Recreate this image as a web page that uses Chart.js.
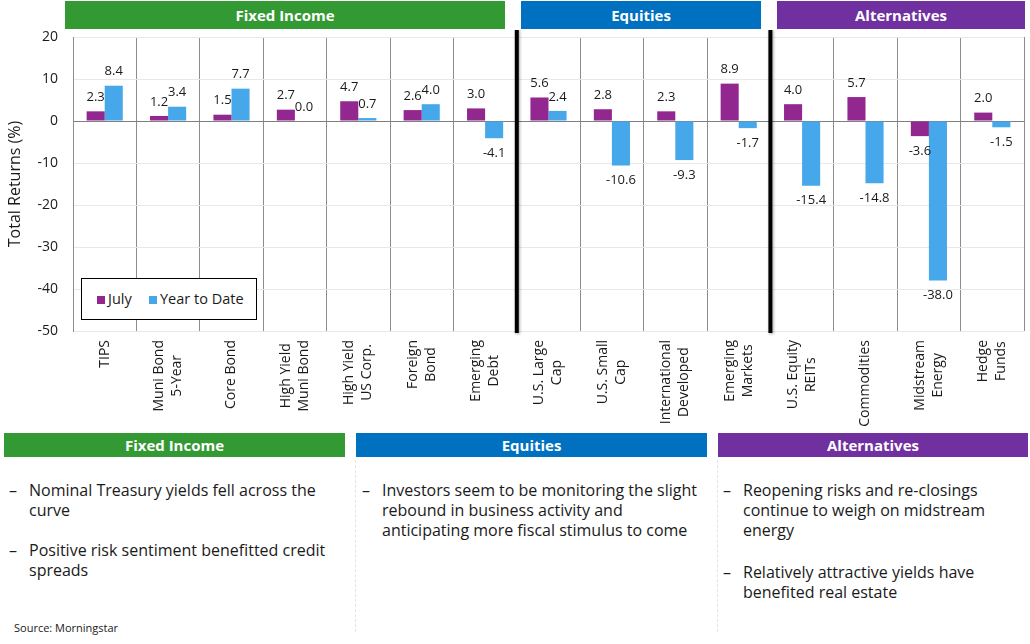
<!DOCTYPE html>
<html>
<head>
<meta charset="utf-8">
<script src="https://cdn.jsdelivr.net/npm/chart.js@4.4.0/dist/chart.umd.min.js"></script>
<style>
body { margin: 0; width: 1030px; height: 644px; position: relative; background: #fff; font-family: 'Open Sans', sans-serif; overflow: hidden; color: #1a1a1a; }
.hdr { position: absolute; color: #fff; font-weight: bold; font-size: 15px; text-align: center; }
#chartBox { position: absolute; left: 0; top: 30px; width: 1030px; height: 400px; }
#legend { position: absolute; left: 81px; top: 278px; width: 174px; height: 40px; border: 1px solid #000; background: #fff; font-size: 14.5px; line-height: 18px; }
#legend span.item { position: absolute; top: 11px; white-space: nowrap; }
#legend i { display: inline-block; width: 8px; height: 8px; margin-right: 3px; }
.notes { position: absolute; top: 480px; margin: 0; padding: 0; list-style: none; font-size: 16px; line-height: 20px; white-space: nowrap; }
.notes li { position: relative; padding-left: 20px; margin-bottom: 20px; }
.notes li::before { content: '\2013'; position: absolute; left: 0; }
.sep { position: absolute; top: 460px; height: 172px; border-left: 1px dashed #e4e4e4; }
#source { position: absolute; left: 14px; top: 620px; font-size: 11px; line-height: 16px; }
</style>
</head>
<body>

<div class="hdr" style="left:65px;top:1px;width:440px;height:28px;line-height:28px;background:#339933">Fixed Income</div>
<div class="hdr" style="left:521px;top:1px;width:240px;height:28px;line-height:28px;background:#0070c0">Equities</div>
<div class="hdr" style="left:777px;top:1px;width:248px;height:28px;line-height:28px;background:#7030a0">Alternatives</div>

<div id="chartBox"><canvas id="barChart" width="1030" height="400"></canvas></div>
<div id="legend"></div>

<div class="hdr" style="left:4px;top:433px;width:341px;height:24px;line-height:24px;background:#339933">Fixed Income</div>
<div class="hdr" style="left:356px;top:433px;width:351px;height:24px;line-height:24px;background:#0070c0">Equities</div>
<div class="hdr" style="left:718px;top:433px;width:310px;height:24px;line-height:24px;background:#7030a0">Alternatives</div>

<div class="sep" style="left:355px"></div>
<div class="sep" style="left:717px"></div>

<ul class="notes" style="left:9px">
  <li>Nominal Treasury yields fell across the<br>curve</li>
  <li>Positive risk sentiment benefitted credit<br>spreads</li>
</ul>
<ul class="notes" style="left:362px">
  <li>Investors seem to be monitoring the slight<br>rebound in business activity and<br>anticipating more fiscal stimulus to come</li>
</ul>
<ul class="notes" style="left:723px">
  <li style="margin-bottom:22px">Reopening risks and re-closings<br>continue to weigh on midstream<br>energy</li>
  <li>Relatively attractive yields have<br>benefited real estate</li>
</ul>

<div id="source">Source: Morningstar</div>

<script>
// chart values
const categories = [
    ['TIPS'], ['Muni Bond', '5-Year'], ['Core Bond'], ['High Yield', 'Muni Bond'],
    ['High Yield', 'US Corp.'], ['Foreign', 'Bond'], ['Emerging', 'Debt'],
    ['U.S. Large', 'Cap'], ['U.S. Small', 'Cap'], ['International', 'Developed'], ['Emerging', 'Markets'],
    ['U.S. Equity', 'REITs'], ['Commodities'], ['Midstream', 'Energy'], ['Hedge', 'Funds']
];
const julyReturns = [2.3, 1.2, 1.5, 2.7, 4.7, 2.6, 3.0, 5.6, 2.8, 2.3, 8.9, 4.0, 5.7, -3.6, 2.0];
const ytdReturns = [8.4, 3.4, 7.7, 0.0, 0.7, 4.0, -4.1, 2.4, -10.6, -9.3, -1.7, -15.4, -14.8, -38.0, -1.5];
const yTickValues = [20, 10, 0, -10, -20, -30, -40, -50];
const groupStarts = [7, 11];   // first category of Equities and of Alternatives

const julyColor = '#92278f';
const ytdColor = '#47a7eb';
const textColor = '#1a1a1a';
const fontName = "'Open Sans'";

const valueLabels = {
    id: 'valueLabels',
    afterDatasetsDraw(chart) {
        const ctx = chart.ctx;
        ctx.save();
        ctx.font = '13px ' + fontName;
        ctx.fillStyle = textColor;
        ctx.textAlign = 'center';
        ctx.textBaseline = 'middle';
        chart.data.datasets.forEach((ds, di) => {
            chart.getDatasetMeta(di).data.forEach((bar, i) => {
                const v = ds.data[i];
                const y = v < 0 ? bar.y + 15 : bar.y - 14;
                ctx.fillText(v.toFixed(1), bar.x, y);
            });
        });
        ctx.restore();
    }
};

const groupDividers = {
    id: 'groupDividers',
    afterDraw(chart) {
        const x = chart.scales.x;
        const area = chart.chartArea;
        const ctx = chart.ctx;
        ctx.save();
        ctx.strokeStyle = '#000';
        ctx.lineWidth = 4;
        ctx.shadowColor = 'rgba(0,0,0,0.35)';
        ctx.shadowBlur = 3;
        ctx.shadowOffsetX = 1;
        ctx.shadowOffsetY = 1;
        groupStarts.forEach(i => {
            const px = (x.getPixelForValue(i - 1) + x.getPixelForValue(i)) / 2;
            ctx.beginPath();
            ctx.moveTo(px, area.top - 8);
            ctx.lineTo(px, area.bottom + 2);
            ctx.stroke();
        });
        ctx.restore();
    }
};

// rotated category labels, lines centred on each other like the original
const xLabels = {
    id: 'xLabels',
    afterDraw(chart) {
        const x = chart.scales.x;
        const ctx = chart.ctx;
        const top = chart.chartArea.bottom + 9;
        ctx.save();
        ctx.font = '14px ' + fontName;
        ctx.fillStyle = textColor;
        ctx.textAlign = 'center';
        ctx.textBaseline = 'middle';
        chart.data.labels.forEach((lines, i) => {
            const w = Math.max(...lines.map(l => ctx.measureText(l).width));
            ctx.save();
            ctx.translate(x.getPixelForValue(i), top);
            ctx.rotate(-Math.PI / 2);
            lines.forEach((l, k) => {
                ctx.fillText(l, -w / 2, (k - (lines.length - 1) / 2) * 18);
            });
            ctx.restore();
        });
        ctx.restore();
    }
};

function renderBarChart() {
    const ctx = document.getElementById('barChart').getContext('2d');

    const chart = new Chart(ctx, {
        type: 'bar',
        data: {
            labels: categories,
            datasets: [{
                label: 'July',
                data: julyReturns,
                backgroundColor: julyColor
            }, {
                label: 'Year to Date',
                data: ytdReturns,
                backgroundColor: ytdColor
            }]
        },
        options: {
            responsive: false,
            animation: false,
            categoryPercentage: 0.57,
            barPercentage: 1.0,
            layout: { padding: { top: 7, right: 6, left: 0, bottom: 0 } },
            plugins: {
                legend: { display: false },
                tooltip: { enabled: false }
            },
            scales: {
                x: {
                    grid: { offset: true, color: '#8c8c8c', drawTicks: false },
                    border: { display: false },
                    ticks: { display: false },
                    afterFit: s => { s.height = 99; }
                },
                y: {
                    min: Math.min(...yTickValues),
                    max: Math.max(...yTickValues),
                    ticks: {
                        stepSize: yTickValues[0] - yTickValues[1],
                        color: textColor,
                        font: { size: 14, family: fontName },
                        padding: 15
                    },
                    grid: {
                        color: c => c.tick.value === 0 ? '#7f7f7f' : '#e8e8e8',
                        drawTicks: false
                    },
                    border: { color: '#8c8c8c' },
                    title: {
                        display: true,
                        text: 'Total Returns (%)',
                        color: textColor,
                        font: { size: 16, family: fontName },
                        padding: { top: 6, bottom: 0 }
                    },
                    afterFit: s => {
                        s.width = 73;
                        // tick padding would otherwise push the plot down
                        s.paddingTop = 0;
                        s.paddingBottom = 0;
                    }
                }
            }
        },
        plugins: [valueLabels, groupDividers, xLabels]
    });

    // legend box drawn in html from the dataset names and colours
    const legend = document.getElementById('legend');
    const lefts = [15, 67];
    chart.data.datasets.forEach((ds, i) => {
        const item = document.createElement('span');
        item.className = 'item';
        item.style.left = lefts[i] + 'px';
        item.innerHTML = '<i style="background:' + ds.backgroundColor + '"></i>' + ds.label;
        legend.appendChild(item);
    });
}

document.addEventListener('DOMContentLoaded', function() {
    renderBarChart();
});
</script>
</body>
</html>
